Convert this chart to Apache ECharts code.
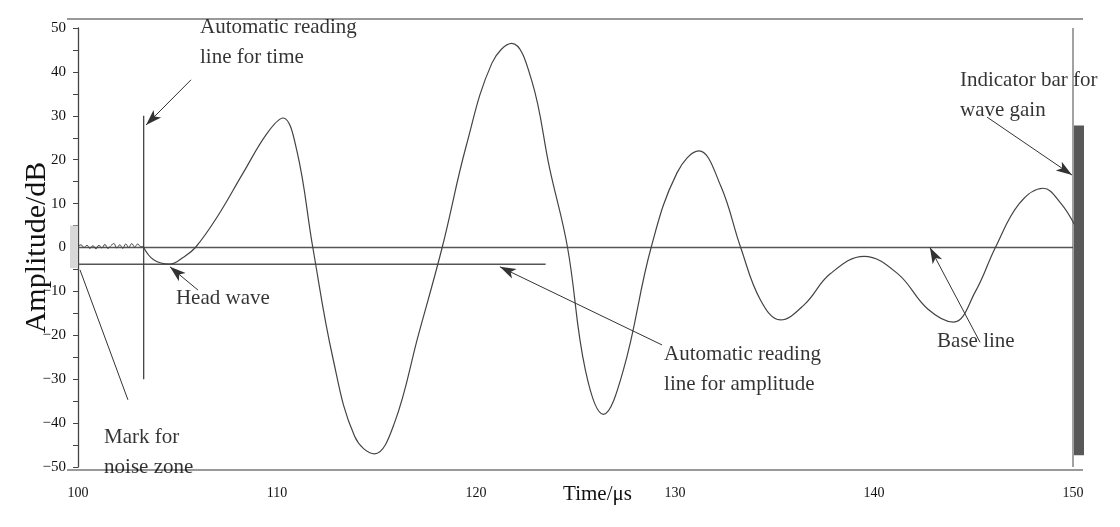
<!DOCTYPE html><html><head><meta charset="utf-8"><script src="https://cdn.jsdelivr.net/npm/echarts@6/dist/echarts.min.js"></script>
<style>html,body{margin:0;padding:0;background:#fff}#c{width:1120px;height:527px}</style></head><body><div id="c"></div><script>
const noiseT=[100,100.15,100.3,100.45,100.6,100.75,100.9,101.05,101.2,101.35,101.5,101.65,101.8,101.95,102.1,102.25,102.4,102.55,102.7,102.85,103,103.15,103.3];
const noiseV=[0.3,0.6,0.0,0.5,-0.2,0.4,-0.3,0.5,-0.1,0.7,-0.2,0.4,0.9,-0.1,0.6,-0.2,0.8,0.0,0.9,0.1,0.8,0.2,0.3];
const waveT=[103.3,103.8,104.6,105.3,105.9,107,108.3,109.5,110.3,111,111.8,112.8,113.9,114.9,115.9,117.1,118.3,119.5,120.8,121.8,122.8,123.7,124.6,125.5,126.4,127.4,128.8,130.1,131.2,132.3,133.3,134.3,135.3,136.5,137.8,139.5,141.2,142.7,144,145.1,146.1,147.3,148.5,149.4,150.1];
const waveV=[0,-2.8,-3.8,-2.2,0,7,17,26,29.5,22,0,-25,-43,-47,-40,-20,0,23,42,46.5,38,18,0,-28,-38,-28,0,17,22,14,0,-12,-16.5,-13,-6,-2,-6,-14,-17,-10,0,10,13.5,10,5];
const timeLine={t:103.3,from:30,to:-30};
const ampLine={v:-3.8,from:100,to:123.5};
const baseLine={v:0,from:100,to:150};
const gainBar={t:150.1,from:27.8,to:-47.3};
const noiseMark={t:100,from:5,to:-4.7};
const annotations=[
 {text:"Automatic reading\nline for time",x:106.13,y:46.8,arrow:[[105.68,38.2],[103.42,27.9]]},
 {text:"Head wave",x:104.92,y:-11.5,arrow:[[106.03,-9.7],[104.62,-4.4]]},
 {text:"Mark for\nnoise zone",x:101.31,y:-46.6,arrow:[[102.51,-34.7],[100.1,-5.1]],noHead:true},
 {text:"Automatic reading\nline for amplitude",x:129.45,y:-27.9,arrow:[[129.35,-22.2],[121.2,-4.4]]},
 {text:"Base line",x:143.17,y:-21.3,arrow:[[145.33,-21.6],[142.81,0]]},
 {text:"Indicator bar for\nwave gain",x:144.32,y:34.7,arrow:[[145.68,29.7],[149.95,16.5]]}
];
const ch=echarts.init(document.getElementById('c'));
const serif='"Liberation Serif","DejaVu Serif",serif';
const series=[
 {type:'line',data:noiseT.map((t,i)=>[t,noiseV[i]]),smooth:true,symbol:'none',lineStyle:{color:'#444',width:1},z:3},
 {type:'line',data:waveT.map((t,i)=>[t,waveV[i]]),smooth:0.4,symbol:'none',lineStyle:{color:'#444',width:1.2},z:3},
 {type:'line',data:[[baseLine.from,baseLine.v],[baseLine.to,baseLine.v]],symbol:'none',lineStyle:{color:'#555',width:1.5},z:2},
 {type:'line',data:[[ampLine.from,ampLine.v],[ampLine.to,ampLine.v]],symbol:'none',lineStyle:{color:'#555',width:1.5},z:2},
 {type:'line',data:[[timeLine.t,timeLine.from],[timeLine.t,timeLine.to]],symbol:'none',lineStyle:{color:'#444',width:1.3},z:2},
 {type:'line',data:[[150,50],[150,-50]],symbol:'none',lineStyle:{color:'#444',width:1},z:2},
 {type:'custom',renderItem:(p,api)=>{const a=api.coord([gainBar.t,gainBar.from]),b=api.coord([gainBar.t,gainBar.to]);return{type:'rect',shape:{x:a[0]-1,y:a[1],width:10,height:b[1]-a[1]},style:{fill:'#585858'}};},data:[[0]],z:4},
 {type:'custom',renderItem:(p,api)=>{const a=api.coord([noiseMark.t,noiseMark.from]),b=api.coord([noiseMark.t,noiseMark.to]);return{type:'rect',shape:{x:a[0]-8,y:a[1],width:8,height:b[1]-a[1]},style:{fill:'#d8d8d8'}};},data:[[0]],z:1},
 {type:'scatter',data:annotations.map(a=>({value:[a.x,a.y],label:{show:true,formatter:a.text,position:'inside',align:'left',verticalAlign:'middle',color:'#000',fontFamily:serif,fontSize:21,lineHeight:30}})),symbolSize:0,silent:true,z:5},
 {type:'line',data:[],markLine:{silent:true,animation:false,label:{show:false},data:annotations.map(a=>[{coord:a.arrow[0],symbol:'none'},{coord:a.arrow[1],symbol:a.noHead?'none':'arrow',symbolSize:[8,16]}]),lineStyle:{color:'#333',width:1,type:'solid'}}}
];
ch.setOption({animation:false,
 grid:{left:78,right:47,top:28,bottom:60,containLabel:false,outerBoundsMode:'none'},
 xAxis:{type:'value',min:100,max:150,interval:10,axisLine:{show:false},axisTick:{show:false},splitLine:{show:false},axisLabel:{color:'#111',fontFamily:serif,fontSize:14,margin:19},
   name:'Time/μs',nameLocation:'middle',nameGap:17,nameMoveOverlap:false,nameTextStyle:{color:'#111',fontFamily:serif,fontSize:21,padding:[0,0,0,44]}},
 yAxis:{type:'value',min:-50,max:50,interval:10,axisLine:{show:true,lineStyle:{color:'#444',width:1.3}},axisTick:{show:true,inside:false,length:5,lineStyle:{color:'#444'}},minorTick:{show:true,splitNumber:2,length:5,lineStyle:{color:'#444'}},splitLine:{show:false},
   axisLabel:{color:'#111',fontFamily:serif,fontSize:15,margin:12,formatter:v=>v<0?'\u2212'+(-v):v},
   name:'Amplitude/dB',nameLocation:'middle',nameGap:26,nameMoveOverlap:false,nameTextStyle:{color:'#111',fontFamily:serif,fontSize:30}},
 graphic:[
  {type:'line',shape:{x1:67,y1:19,x2:1083,y2:19},style:{stroke:'#777',lineWidth:1.5}},
  {type:'line',shape:{x1:67,y1:470,x2:1083,y2:470},style:{stroke:'#777',lineWidth:1.5}}
 ],
 series});
</script></body></html>
